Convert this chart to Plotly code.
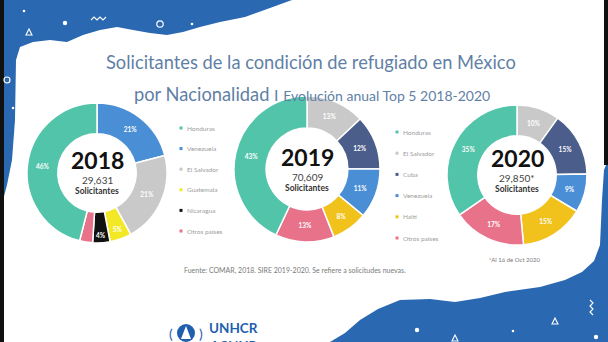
import plotly.graph_objects as go

W, H = 608, 342

# ---- data -------------------------------------------------------------
years = ["2018", "2019", "2020"]
totals = ["29,631", "70,609", "29,850*"]

# slices listed clockwise from 12 o'clock
cats_2018 = ["Venezuela", "El Salvador", "Guatemala", "Nicaragua", "Otros países", "Honduras"]
vals_2018 = [21, 21, 5, 4, 3, 46]

cats_2019 = ["El Salvador", "Cuba", "Venezuela", "Haití", "Otros países", "Honduras"]
vals_2019 = [13, 12, 11, 8, 13, 43]

cats_2020 = ["El Salvador", "Cuba", "Venezuela", "Haití", "Otros países", "Honduras"]
vals_2020 = [10, 15, 9, 15, 17, 35]

legend_2018 = ["Honduras", "Venezuela", "El Salvador", "Guatemala", "Nicaragua", "Otros países"]
legend_2019 = ["Honduras", "El Salvador", "Cuba", "Venezuela", "Haití", "Otros países"]

COLORS = {
    "Honduras": "#52c4a9",
    "Venezuela": "#4a8fd6",
    "El Salvador": "#c9c9c9",
    "Guatemala": "#f3e826",
    "Nicaragua": "#111111",
    "Otros países": "#e8728a",
    "Cuba": "#4b5d8b",
    "Haití": "#f1c21b",
}

BLUE = "#2b68b2"
FONT = "Lato"


def px(x):
    return x / W


def py(y):
    return 1 - y / H


def path(points, close=True):
    s = "M " + " L ".join(f"{px(x):.5f},{py(y):.5f}" for x, y in points)
    return s + (" Z" if close else "")


fig = go.Figure()

# ---- donuts -----------------------------------------------------------
donuts = [
    (cats_2018, vals_2018, (97, 173, 70)),
    (cats_2019, vals_2019, (307, 169, 73)),
    (cats_2020, vals_2020, (517, 175, 70)),
]
for cats, vals, (cx, cy, r) in donuts:
    fig.add_trace(go.Pie(
        labels=cats,
        values=vals,
        sort=False,
        direction="clockwise",
        rotation=0,
        hole=0.56,
        marker=dict(colors=[COLORS[c] for c in cats], line=dict(color="white", width=1.5)),
        text=[f"{v}%" if v >= 4 else "" for v in vals],
        textinfo="text",
        textposition="inside",
        insidetextorientation="horizontal",
        textfont=dict(family=FONT, size=6.5, color="white", weight="bold"),
        hoverinfo="label+value",
        showlegend=False,
        domain=dict(x=[px(cx - r), px(cx + r)], y=[py(cy + r), py(cy - r)]),
    ))

annotations = []


def note(x, y, text, size, color, weight="normal", xanchor="center"):
    annotations.append(dict(
        x=px(x), y=py(y), xref="paper", yref="paper", text=text, showarrow=False,
        xanchor=xanchor, yanchor="middle",
        font=dict(family=FONT, size=size, color=color, weight=weight),
    ))


# centre labels
centres = [(97, 160), (307, 157), (517, 158)]
for (cx, cy), yr, tot in zip(centres, years, totals):
    note(cx, cy, yr, 23, "#111111", "bold")
    note(cx, cy + 20, tot, 10, "#444444")
    note(cx, cy + 31, "Solicitantes", 8.5, "#333333", "bold")

# ---- legends ----------------------------------------------------------
shapes = []
legend_blocks = [(legend_2018, 181, 128, 20.6), (legend_2019, 397, 132, 21.2)]
for names, lx, ly, step in legend_blocks:
    for i, name in enumerate(names):
        yy = ly + i * step
        shapes.append(dict(type="rect", xref="paper", yref="paper",
                           x0=px(lx - 1.5), x1=px(lx + 1.5), y0=py(yy + 1.5), y1=py(yy - 1.5),
                           fillcolor=COLORS[name], line=dict(width=0)))
        note(lx + 4, yy, name, 6.5, "#9d9d9d", xanchor="left")

# ---- titles and notes -------------------------------------------------
note(311, 62, "Solicitantes de la condición de refugiado en México", 18.3, "#5f7fa6")
note(312, 94, "por Nacionalidad <span style='font-size:16px'>I</span> "
     "<span style='font-size:14px'>Evolución anual Top 5 2018-2020</span>", 18.3, "#5f7fa6")
note(182, 270, "Fuente: COMAR, 2018. SIRE 2019-2020. Se refiere a solicitudes nuevas.",
     7, "#7a7a7a", xanchor="left")
note(487, 259, "*Al 16 de Oct 2020", 6, "#7a7a7a", xanchor="left")

# ---- background decoration --------------------------------------------
top_left = [(0, 0), (292, 0), (270, 8), (245, 17), (220, 22), (200, 27), (183, 32),
            (167, 35), (150, 33), (133, 30), (117, 27), (100, 30), (83, 35), (67, 42),
            (50, 40), (33, 42), (20, 47), (16, 60), (15, 120), (12, 160), (7, 185),
            (3, 200), (0, 205)]
bottom_right = [(330, 342), (345, 333), (360, 320), (378, 309), (400, 300), (430, 299),
                (455, 302), (480, 298), (505, 292), (540, 287), (565, 280), (582, 272),
                (594, 261), (600, 245), (602, 200), (604, 170), (608, 160), (608, 342)]
shapes.append(dict(type="path", xref="paper", yref="paper", path=path(top_left),
                   fillcolor=BLUE, line=dict(width=0), layer="below"))
shapes.append(dict(type="path", xref="paper", yref="paper", path=path(bottom_right),
                   fillcolor=BLUE, line=dict(width=0), layer="below"))

# screen edges
shapes.append(dict(type="rect", xref="paper", yref="paper", x0=0, x1=px(4), y0=0, y1=1,
                   fillcolor="#111111", line=dict(width=0), layer="below"))
shapes.append(dict(type="rect", xref="paper", yref="paper", x0=px(604), x1=1, y0=py(165), y1=1,
                   fillcolor="#111111", line=dict(width=0), layer="below"))


def dot(x, y, r, filled=True):
    shapes.append(dict(type="circle", xref="paper", yref="paper",
                       x0=px(x - r), x1=px(x + r), y0=py(y + r), y1=py(y - r),
                       fillcolor="white" if filled else "rgba(0,0,0,0)",
                       line=dict(color="white", width=0 if filled else 1.2), layer="below"))


def tri(x, y, s):
    shapes.append(dict(type="path", xref="paper", yref="paper",
                       path=path([(x - s, y + s), (x + s, y + s), (x, y - s)]),
                       fillcolor="rgba(0,0,0,0)", line=dict(color="white", width=1.1), layer="below"))


def zigzag(pts):
    shapes.append(dict(type="path", xref="paper", yref="paper", path=path(pts, close=False),
                       line=dict(color="white", width=1.1), layer="below"))


dot(24, 11, 1.3); dot(65, 23, 2.2); dot(192, 24, 1.3); dot(13, 108, 1.3)
dot(160, 24, 3.2, False); dot(7, 80, 3, False)
tri(29, 32, 3)
zigzag([(91, 20), (94, 17), (97, 20), (100, 17), (103, 20), (106, 17)])
dot(417, 330, 2.2); dot(513, 331, 1.3); dot(596, 337, 2.2)
tri(555, 321, 3); tri(455, 338, 3)
zigzag([(590, 300), (593, 303), (590, 306), (593, 309), (590, 312), (593, 315)])

# UNHCR emblem and wordmark
dot(186, 333, 9)
shapes[-1].update(fillcolor="#1f5fae", line=dict(width=0))
shapes.append(dict(type="path", xref="paper", yref="paper",
                   path=path([(181, 339), (186, 326), (191, 339)]),
                   fillcolor="white", line=dict(width=0), layer="below"))
note(171, 333, "(", 14, "#1f5fae")
note(201, 333, ")", 14, "#1f5fae")
note(207, 328, "UNHCR", 13.5, "#1f5fae", "bold", xanchor="left")
note(207, 346, "ACNUR", 13.5, "#1f5fae", "bold", xanchor="left")

fig.update_layout(
    width=W, height=H,
    margin=dict(l=0, r=0, t=0, b=0),
    paper_bgcolor="white",
    plot_bgcolor="white",
    shapes=shapes,
    annotations=annotations,
)

fig.write_html("out.html")
